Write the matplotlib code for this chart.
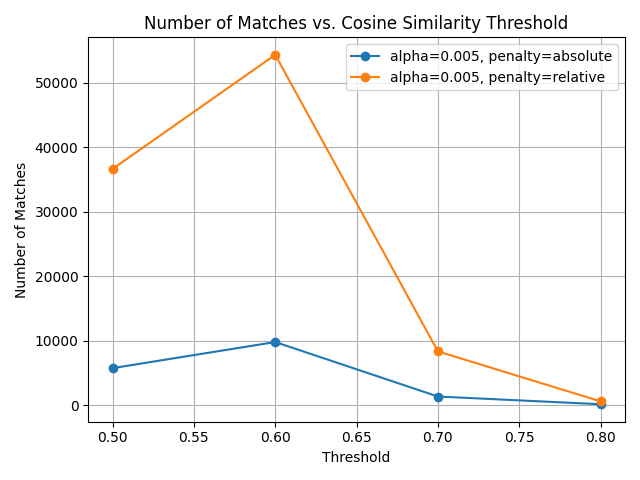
import matplotlib
matplotlib.use("Agg")
import matplotlib.pyplot as plt

thresholds = [0.5, 0.6, 0.7, 0.8]
matches_absolute = [5750, 9800, 1350, 150]
matches_relative = [36650, 54350, 8350, 600]

fig, ax = plt.subplots(figsize=(6.4, 4.8), dpi=100)

ax.plot(thresholds, matches_absolute, marker="o", label="alpha=0.005, penalty=absolute")
ax.plot(thresholds, matches_relative, marker="o", label="alpha=0.005, penalty=relative")

ax.set_title("Number of Matches vs. Cosine Similarity Threshold")
ax.set_xlabel("Threshold")
ax.set_ylabel("Number of Matches")
ax.legend()
ax.grid(True)

plt.tight_layout()
plt.savefig("out.png")
